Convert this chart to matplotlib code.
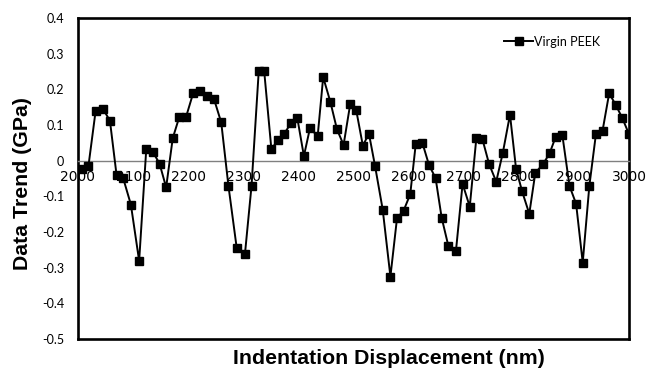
import numpy as np
import matplotlib.pyplot as plt

# Indentation displacement (nm) and detrended hardness signal (GPa)
displacement = [2007, 2019, 2032, 2045, 2058, 2070, 2082, 2096, 2111, 2124,
                2136, 2148, 2160, 2172, 2184, 2196, 2209, 2222, 2235, 2247,
                2260, 2273, 2288, 2303, 2315, 2328, 2338, 2351, 2363, 2374,
                2387, 2398, 2410, 2421, 2435, 2445, 2458, 2470, 2482, 2494,
                2505, 2517, 2528, 2539, 2553, 2567, 2579, 2591, 2603, 2613,
                2625, 2637, 2649, 2660, 2672, 2686, 2698, 2711, 2723, 2734,
                2746, 2759, 2771, 2784, 2795, 2806, 2819, 2830, 2844, 2856,
                2867, 2879, 2892, 2904, 2916, 2928, 2940, 2952, 2964, 2976,
                2988, 3000]
trend = [-0.024, -0.015, 0.139, 0.146, 0.112, -0.040, -0.049, -0.123, -0.281, 0.034,
         0.024, -0.008, -0.075, 0.063, 0.123, 0.122, 0.189, 0.195, 0.181, 0.172,
         0.107, -0.070, -0.244, -0.262, -0.070, 0.250, 0.250, 0.032, 0.058, 0.075,
         0.106, 0.120, 0.013, 0.091, 0.069, 0.234, 0.165, 0.088, 0.044, 0.158,
         0.141, 0.042, 0.076, -0.014, -0.137, -0.325, -0.161, -0.140, -0.094, 0.047,
         0.050, -0.012, -0.049, -0.160, -0.238, -0.252, -0.065, -0.129, 0.064, 0.060,
         -0.009, -0.059, 0.022, 0.129, -0.023, -0.086, -0.149, -0.034, -0.010, 0.021,
         0.067, 0.072, -0.071, -0.121, -0.286, -0.071, 0.075, 0.084, 0.189, 0.156,
         0.119, 0.074]

x_ticks = list(range(2000, 3001, 100))
y_ticks = [0.4, 0.3, 0.2, 0.1, 0.0, -0.1, -0.2, -0.3, -0.4, -0.5]
y_tick_labels = ['0.4', '0.3', '0.2', '0.1', '0', '-0.1', '-0.2', '-0.3', '-0.4', '-0.5']

tick_font = 'Lato'
label_font = 'Liberation Sans'

fig = plt.figure(figsize=(6.46, 3.71), dpi=100)
ax = fig.add_axes([0.1207, 0.0863, 0.8530, 0.8652])

ax.plot(displacement, trend, color='black', lw=1.4, marker='s', ms=5.3,
        label='Virgin PEEK', zorder=3)

ax.set_xlim(2000, 3000)
ax.set_ylim(-0.5, 0.4)
ax.set_xticks(x_ticks)
ax.set_yticks(y_ticks)
ax.set_yticklabels(y_tick_labels, fontname=tick_font, fontsize=9)
ax.set_xticklabels([str(t) for t in x_ticks], fontname=tick_font, fontsize=9)
ax.tick_params(axis='both', length=0)
ax.tick_params(axis='y', pad=10)
ax.tick_params(axis='x', pad=7)

# horizontal axis crosses at zero, frame drawn around the plot area
ax.spines['bottom'].set_position(('data', 0))
ax.spines['bottom'].set_color('#808080')
ax.spines['bottom'].set_linewidth(1.0)
for side in ['left', 'right', 'top']:
    ax.spines[side].set_color('black')
    ax.spines[side].set_linewidth(1.9)
ax.plot([0, 1], [0, 0], transform=ax.transAxes, color='black', lw=1.9,
        clip_on=False, solid_capstyle='projecting')

ax.set_ylabel('Data Trend (GPa)', fontname=label_font, fontweight='bold',
              fontsize=15.3)
ax.yaxis.set_label_coords(-0.084, 0.484)
fig.text(0.602, 0.035, 'Indentation Displacement (nm)', fontname=label_font,
         fontweight='bold', fontsize=15.3, ha='center', va='center')

leg = ax.legend(loc='center right', bbox_to_anchor=(0.948, 0.926), frameon=False,
                prop={'family': tick_font, 'size': 9}, handlelength=2.3,
                handletextpad=0.1, borderaxespad=0, borderpad=0)

fig.savefig('out.png', dpi=100)
